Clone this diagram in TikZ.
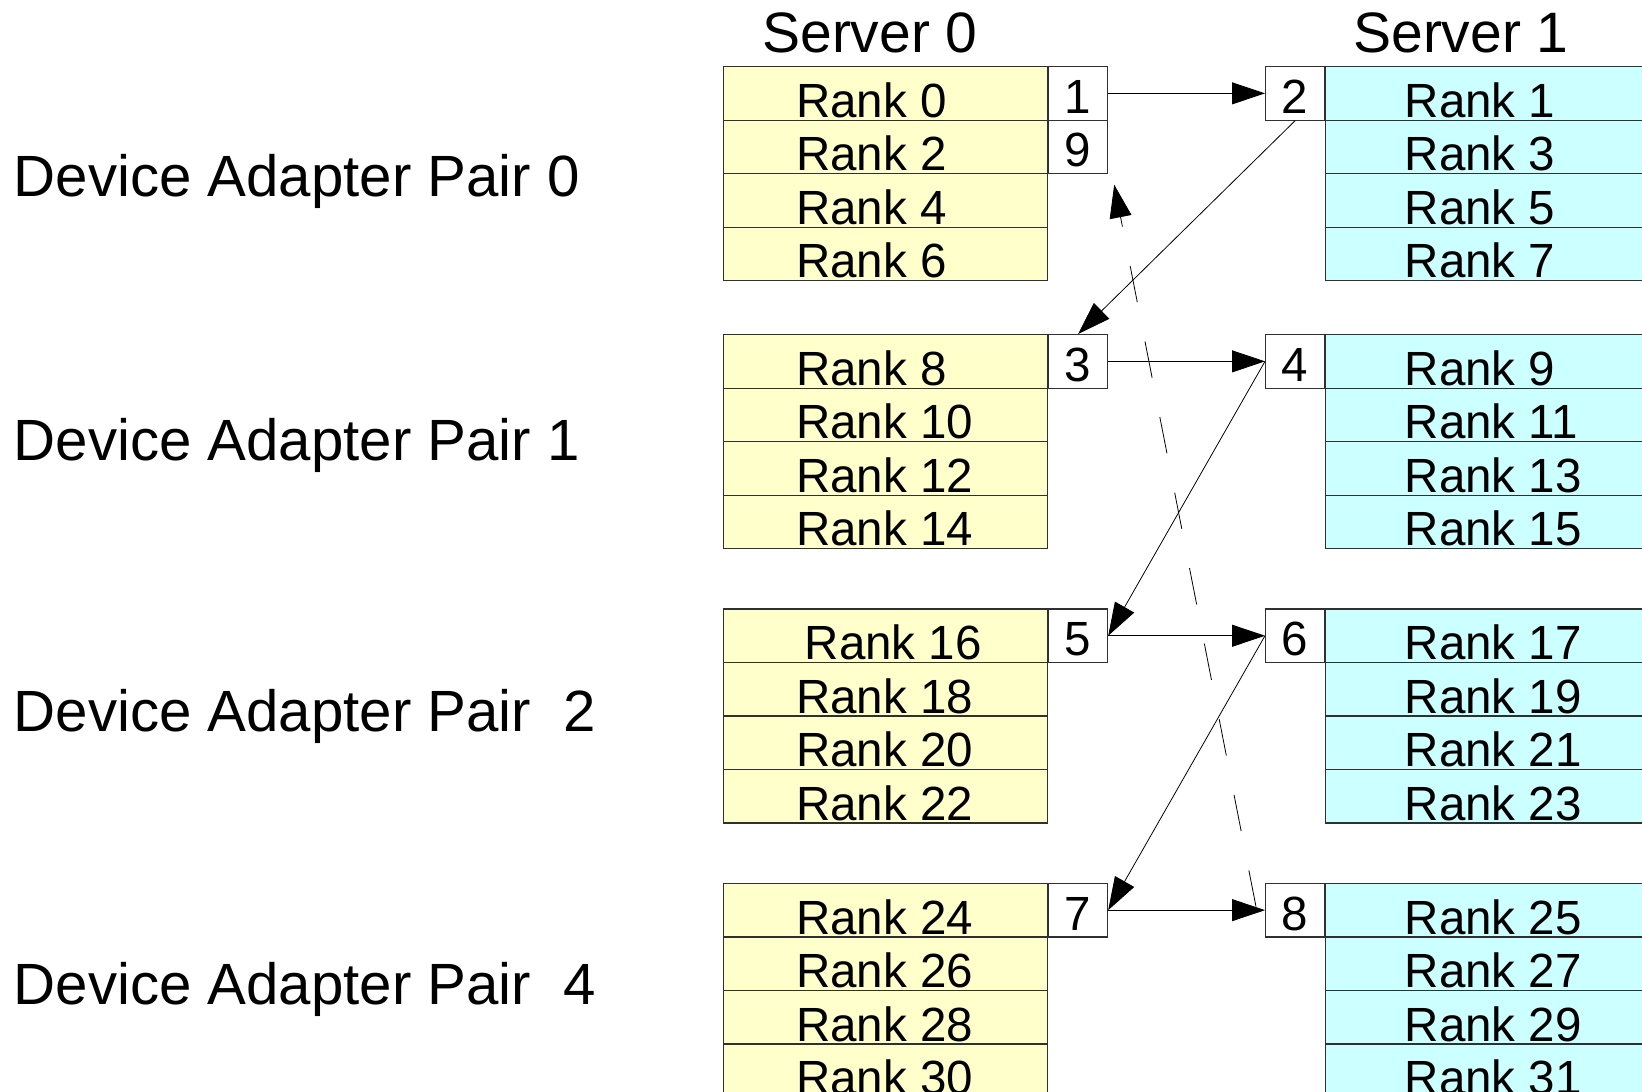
\documentclass[tikz,border=0pt]{standalone}
\usepackage{fontspec}
\setmainfont{Liberation Sans}
\usetikzlibrary{arrows.meta,calc}
\definecolor{paleyellow}{HTML}{FFFFCC}
\definecolor{paleturq}{HTML}{CCFFFF}
\definecolor{framegray}{HTML}{303030}
\tikzset{
  cell/.style = {draw=framegray, line width=1.2pt, minimum height=53.5pt, inner sep=0pt, anchor=north west},
  ycell/.style = {cell, fill=paleyellow, minimum width=324.5pt},
  ccell/.style = {cell, fill=paleturq, minimum width=400pt},
  numbox/.style = {cell, fill=white, minimum width=59pt},
  ranktext/.style = {inner sep=0pt, xscale=0.99, font=\fontsize{48}{48}\selectfont},
  servertext/.style = {inner sep=0pt, anchor=base, font=\fontsize{57}{57}\selectfont},
  pairtext/.style = {inner sep=0pt, anchor=base west, font=\fontsize{58.2}{58.2}\selectfont},
  conn/.style = {-{Triangle[length=33pt,width=22pt]}, line width=0.8pt},
}
\begin{document}
\begin{tikzpicture}[x=1pt, y=-1pt]
\useasboundingbox (0,0) rectangle (1642,1092);
\clip (0,0) rectangle (1642,1092);
% server headings
\node[servertext] (srv0) at (870,52.5) {Server 0};
\node[servertext] (srv1) at (1461,52.5) {Server 1};
% pair labels
\node[pairtext] (pair0) at (13.5,196) {Device Adapter Pair 0};
\node[pairtext] (pair1) at (13.5,460) {Device Adapter Pair 1};
\node[pairtext] (pair2) at (13.5,731) {Device Adapter Pair\ \ 2};
\node[pairtext] (pair4) at (13.5,1004) {Device Adapter Pair\ \ 4};
% rank cells
\foreach \g/\gy in {0/66, 1/334, 2/608.4, 3/882.8}
{
	\foreach \k in {0,1,2,3}
	{
		\pgfmathtruncatemacro\rl{8*\g+2*\k}
		\pgfmathtruncatemacro\rr{8*\g+2*\k+1}
		\node[ycell] (y\rl) at (722.5, \gy+53.5*\k) {};
		\node[ccell] (c\rr) at (1324.5, \gy+53.5*\k) {};
		\ifnum\rl=16
			\def\dx{82}
		\else
			\def\dx{73.5}
		\fi
		\node[ranktext, anchor=base west] (ty\rl) at ($(y\rl.south west)+(\dx,-3.5)$) {Rank \rl};
		\node[ranktext, anchor=base west] (tc\rr) at ($(c\rr.south west)+(80,-3.5)$) {Rank \rr};
	}
}
% numbered boxes
\foreach \n/\bx/\by in {1/1048/66, 9/1048/119.5, 3/1048/334, 5/1048/608.4, 7/1048/882.8,
                        2/1265/66, 4/1265/334, 6/1265/608.4, 8/1265/882.8}
{
	\node[numbox] (n\n) at (\bx,\by) {};
	\node[ranktext, anchor=base] (tn\n) at ($(n\n.south)+(0,-7.5)$) {\n};
}
% order of the ring
\draw[conn] (n1) -- (n2);
\draw[conn] (n2.south) -- (n3.north);
\draw[conn] (n3) -- (n4);
\draw[conn] (n4.west) -- (n5.east);
\draw[conn] (n5) -- (n6);
\draw[conn] (n6.west) -- (n7.east);
\draw[conn] (n7) -- (n8);
\draw[conn, dash pattern=on 37pt off 40pt] ($(n8.west)+(-9,-3.5)$) -- ($(n9.south east)+(6,10.5)$);
\end{tikzpicture}
\end{document}
